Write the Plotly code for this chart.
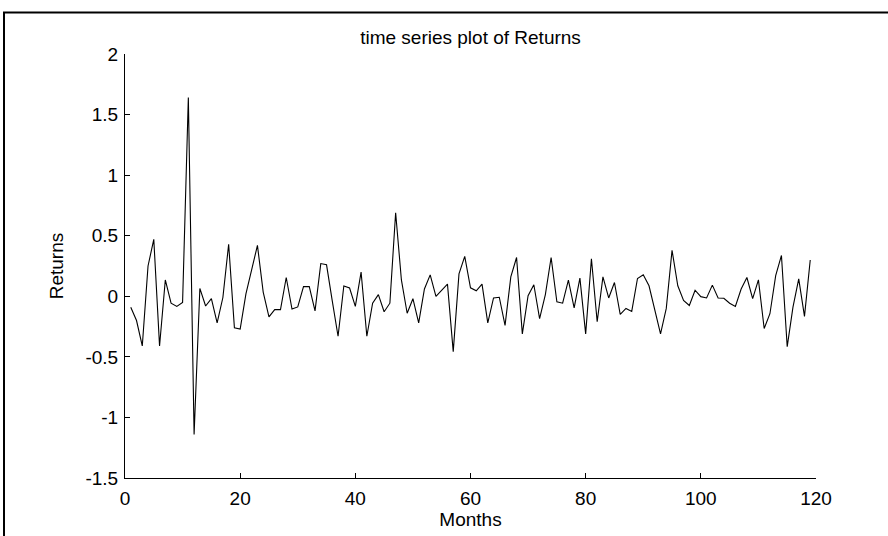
import plotly.graph_objects as go

months = list(range(1, 120))
returns = [
    -0.09, -0.20, -0.41, 0.25, 0.47, -0.41, 0.135, -0.057, -0.084, -0.05,
    1.64, -1.14, 0.065, -0.08, -0.02, -0.22, -0.01, 0.43, -0.26, -0.27,
    0.02, 0.22, 0.42, 0.035, -0.17, -0.11, -0.11, 0.155, -0.105, -0.088,
    0.08, 0.08, -0.12, 0.27, 0.26, -0.04, -0.33, 0.085, 0.068, -0.084,
    0.20, -0.33, -0.057, 0.014, -0.128, -0.057, 0.69, 0.135, -0.14, -0.02,
    -0.22, 0.06, 0.177, 0.0, 0.05, 0.10, -0.457, 0.185, 0.33, 0.07,
    0.045, 0.10, -0.22, -0.014, -0.008, -0.24, 0.16, 0.32, -0.31, 0.005,
    0.095, -0.185, 0.014, 0.32, -0.046, -0.057, 0.133, -0.095, 0.15, -0.31,
    0.31, -0.21, 0.16, -0.014, 0.114, -0.15, -0.10, -0.125, 0.147, 0.177,
    0.087, -0.11, -0.31, -0.10, 0.38, 0.087, -0.035, -0.076, 0.05, -0.003,
    -0.014, 0.092, -0.014, -0.016, -0.057, -0.084, 0.06, 0.155, -0.02, 0.136,
    -0.266, -0.144, 0.17, 0.337, -0.416, -0.09, 0.144, -0.166, 0.30,
]
x_ticks = [0, 20, 40, 60, 80, 100, 120]
y_ticks = [-1.5, -1, -0.5, 0, 0.5, 1, 1.5, 2]
y_tick_labels = ["-1.5", "-1", "-0.5", "0", "0.5", "1", "1.5", "2"]

FONT = "Liberation Sans, Arial, sans-serif"
FS = 19

fig = go.Figure()
fig.add_trace(go.Scatter(
    x=months, y=returns, mode="lines",
    line=dict(color="black", width=1.1),
    showlegend=False, hoverinfo="skip",
))

fig.update_layout(
    width=888, height=536,
    margin=dict(l=125, r=72, t=54, b=53),
    paper_bgcolor="white", plot_bgcolor="white",
    font=dict(family=FONT, size=FS, color="black"),
    title=dict(
        text="time series plot of Returns",
        x=0.5, xref="paper", xanchor="center",
        y=1 - 37 / 536, yref="container", yanchor="middle",
        font=dict(family=FONT, size=FS, color="black"),
    ),
    xaxis=dict(
        range=[0, 120], tickvals=x_ticks, ticktext=[str(v) for v in x_ticks],
        showgrid=False, zeroline=False,
        showline=True, linecolor="black", linewidth=1, mirror=False,
        ticks="inside", ticklen=5, tickcolor="black", tickwidth=1,
        ticklabelstandoff=3,
        title=dict(text="Months", standoff=2, font=dict(size=FS)),
        tickfont=dict(size=FS),
    ),
    yaxis=dict(
        range=[-1.5, 2], tickvals=y_ticks, ticktext=y_tick_labels,
        showgrid=False, zeroline=False,
        showline=True, linecolor="black", linewidth=1, mirror=False,
        ticks="inside", ticklen=5, tickcolor="black", tickwidth=1,
        ticklabelstandoff=2,
        title=dict(text="Returns", standoff=16, font=dict(size=FS)),
        tickfont=dict(size=FS),
    ),
    shapes=[dict(
        type="rect", xref="paper", yref="paper",
        x0=(4 - 125) / 691, x1=1.3,
        y0=-0.3, y1=1 + (54 - 12) / 429,
        line=dict(color="black", width=2), fillcolor="rgba(0,0,0,0)",
        layer="below",
    )],
)

fig.write_html("out.html")
